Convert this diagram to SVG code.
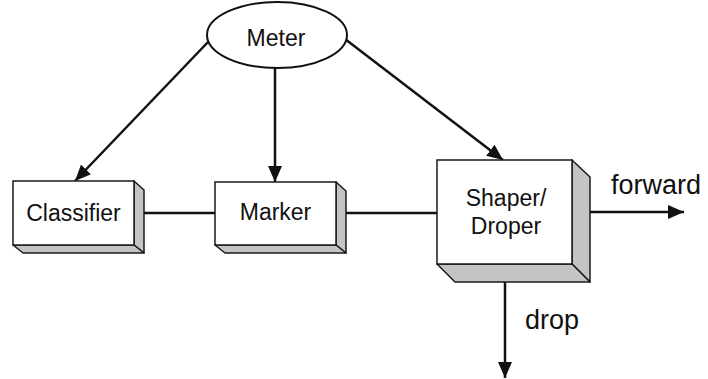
<svg xmlns="http://www.w3.org/2000/svg" width="708" height="379" viewBox="0 0 708 379">
  <style>
    .face { fill: #ffffff; stroke: #1a1a1a; stroke-width: 1.5; }
    .side { fill: #c4c4c4; stroke: #1a1a1a; stroke-width: 1.5; stroke-linejoin: round; }
    .lbl { font-family: "Liberation Sans", Arial, sans-serif; font-size: 23px; fill: #111; text-anchor: middle; }
    .out { font-family: "Liberation Sans", Arial, sans-serif; font-size: 27px; fill: #111; }
    .wire { stroke: #111; stroke-width: 2.5; fill: none; }
  </style>
  <defs>
    <marker id="arrow" markerUnits="userSpaceOnUse" markerWidth="18" markerHeight="16" refX="16" refY="7" orient="auto">
      <path d="M0,0 L16,7 L0,14 Z" fill="#111"/>
    </marker>
  </defs>

  <!-- connectors -->
  <g id="connectors">
    <line class="wire" x1="134" y1="213" x2="215" y2="213"/>
    <line class="wire" x1="336" y1="213" x2="437" y2="213"/>
    <line class="wire" x1="572" y1="212" x2="684" y2="212" marker-end="url(#arrow)"/>
    <line class="wire" x1="505" y1="264" x2="505" y2="378" marker-end="url(#arrow)"/>
    <line class="wire" x1="209" y1="41" x2="75" y2="181" marker-end="url(#arrow)"/>
    <line class="wire" x1="275" y1="68" x2="275" y2="182" marker-end="url(#arrow)"/>
    <line class="wire" x1="345" y1="39" x2="503" y2="160" marker-end="url(#arrow)"/>
  </g>

  <!-- Meter -->
  <g id="meter">
    <ellipse cx="277" cy="35" rx="70" ry="33" fill="#ffffff" stroke="#111" stroke-width="2"/>
    <text class="lbl" x="276" y="46">Meter</text>
  </g>

  <!-- Classifier -->
  <g id="classifier">
    <polygon class="side" points="134,181 144,190 144,253 134,245"/>
    <polygon class="side" points="13,245 134,245 144,253 23,253"/>
    <rect class="face" x="13" y="181" width="121" height="64"/>
    <text class="lbl" x="73.5" y="221">Classifier</text>
  </g>

  <!-- Marker -->
  <g id="marker">
    <polygon class="side" points="336,182 346,191 346,253 336,245"/>
    <polygon class="side" points="215,245 336,245 346,253 225,253"/>
    <rect class="face" x="215" y="182" width="121" height="63"/>
    <text class="lbl" x="275.5" y="220">Marker</text>
  </g>

  <!-- Shaper/Droper -->
  <g id="shaper">
    <polygon class="side" points="572,160 590,177 590,282 572,264"/>
    <polygon class="side" points="437,264 572,264 590,282 455,282"/>
    <rect class="face" x="437" y="160" width="135" height="104"/>
    <text class="lbl" x="506" y="206">Shaper/</text>
    <text class="lbl" x="506" y="234">Droper</text>
  </g>

  <!-- output labels -->
  <text class="out" x="611" y="194">forward</text>
  <text class="out" x="525" y="329">drop</text>
</svg>
